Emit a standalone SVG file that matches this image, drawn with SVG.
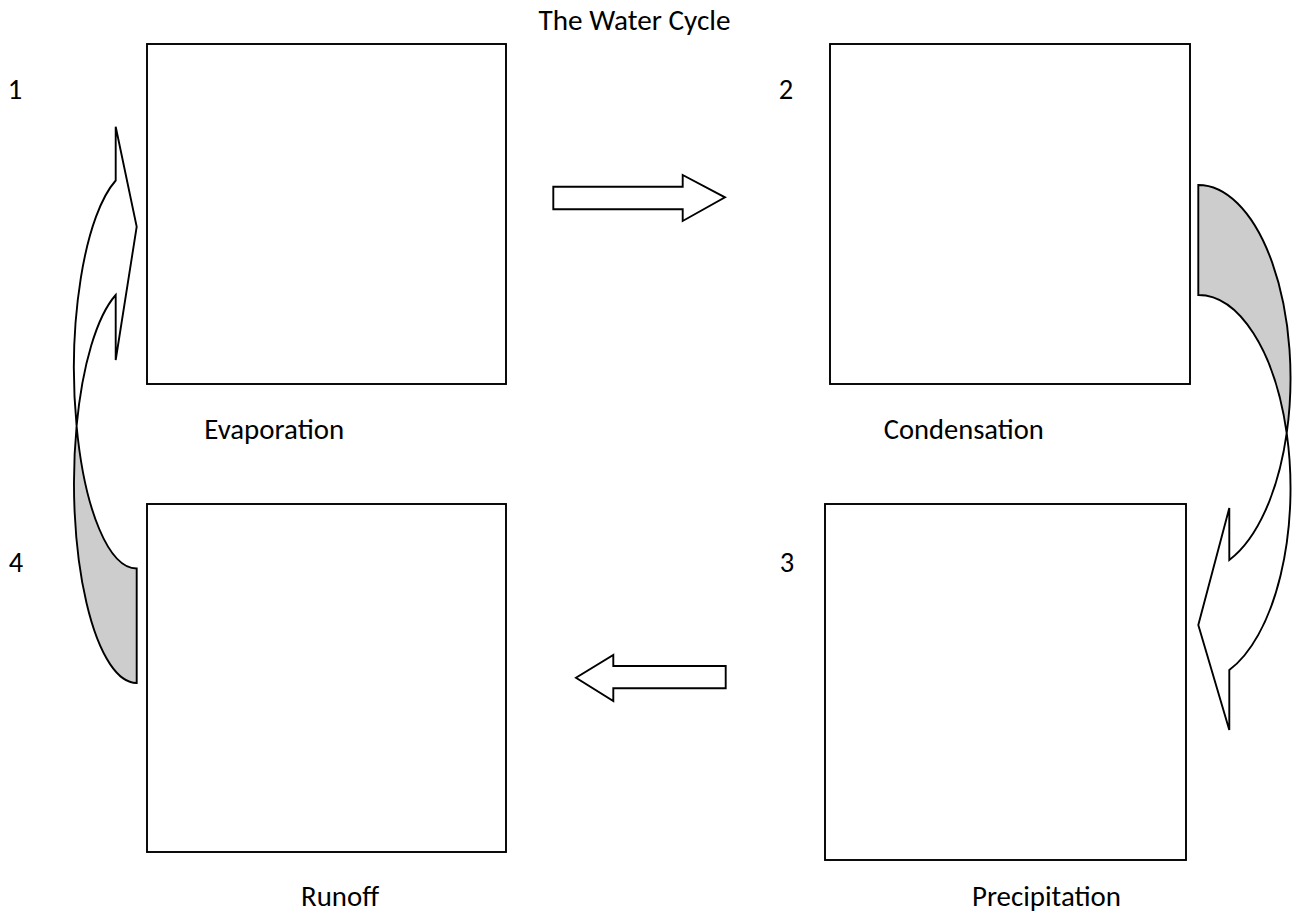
<svg xmlns="http://www.w3.org/2000/svg" width="1296" height="920" viewBox="0 0 1296 920">
<style>
.box{fill:#fff;stroke:#000;stroke-width:1.9}
.ar{fill:#fff;stroke:#000;stroke-width:1.9;stroke-linejoin:miter}
.back{fill:#cdcdcd;stroke:#000;stroke-width:1.9}
.t{font-family:Carlito,Calibri,Lato,"Liberation Sans",sans-serif;font-size:28.5px;fill:#000;text-anchor:middle}
</style>
<rect width="1296" height="920" fill="#fff"/>
<text class="t" x="634.5" y="30" textLength="192" lengthAdjust="spacingAndGlyphs">The Water Cycle</text>
<g id="node-evaporation">
<rect class="box" x="147" y="44" width="359" height="340"/>
<text class="t" x="15" y="99">1</text>
<text class="t" x="274.2" y="438.5" textLength="140" lengthAdjust="spacingAndGlyphs">Evaporation</text>
</g>
<g id="node-condensation">
<rect class="box" x="830" y="44" width="360" height="340"/>
<text class="t" x="786" y="99">2</text>
<text class="t" x="963.7" y="438.5" textLength="160" lengthAdjust="spacingAndGlyphs">Condensation</text>
</g>
<g id="node-precipitation">
<rect class="box" x="825" y="504" width="361" height="356"/>
<text class="t" x="787" y="572">3</text>
<text class="t" x="1046.5" y="906" textLength="149" lengthAdjust="spacingAndGlyphs">Precipitation</text>
</g>
<g id="node-runoff">
<rect class="box" x="147" y="504" width="359" height="348"/>
<text class="t" x="16" y="572">4</text>
<text class="t" x="340" y="906" textLength="78" lengthAdjust="spacingAndGlyphs">Runoff</text>
</g>
<g id="connectors">
<path class="ar" d="M553.3 186.7 H682.7 V175 L725 197.3 L682.7 221 V209.3 H553.3 Z"/>
<path class="ar" d="M725.7 666 H613.3 V655 L576 677.7 L613.3 701 V688.3 H725.7 Z"/>
<path class="back" d="M1198.3 185 A92.2 193.1 0 0 1 1286.7 433.1 A92.2 193.1 0 0 0 1198.3 295 Z"/>
<path class="ar" d="M1286.7 433.1 A92.2 193.1 0 0 1 1229.3 560 L1229.3 508 L1198.3 625 L1229.3 730 L1229.3 670 A92.2 193.1 0 0 0 1286.7 433.1 Z"/>
<path class="back" d="M136.7 568.5 A62.7 199.8 0 0 1 76.6 426 A62.7 199.8 0 0 0 136.7 683 Z"/>
<path class="ar" d="M76.6 426 A62.7 199.8 0 0 1 115.7 180.5 L115.7 126.7 L136.7 226.7 L115.7 360 L115.7 295 A62.7 199.8 0 0 0 76.6 426 Z"/>
</g>
</svg>
